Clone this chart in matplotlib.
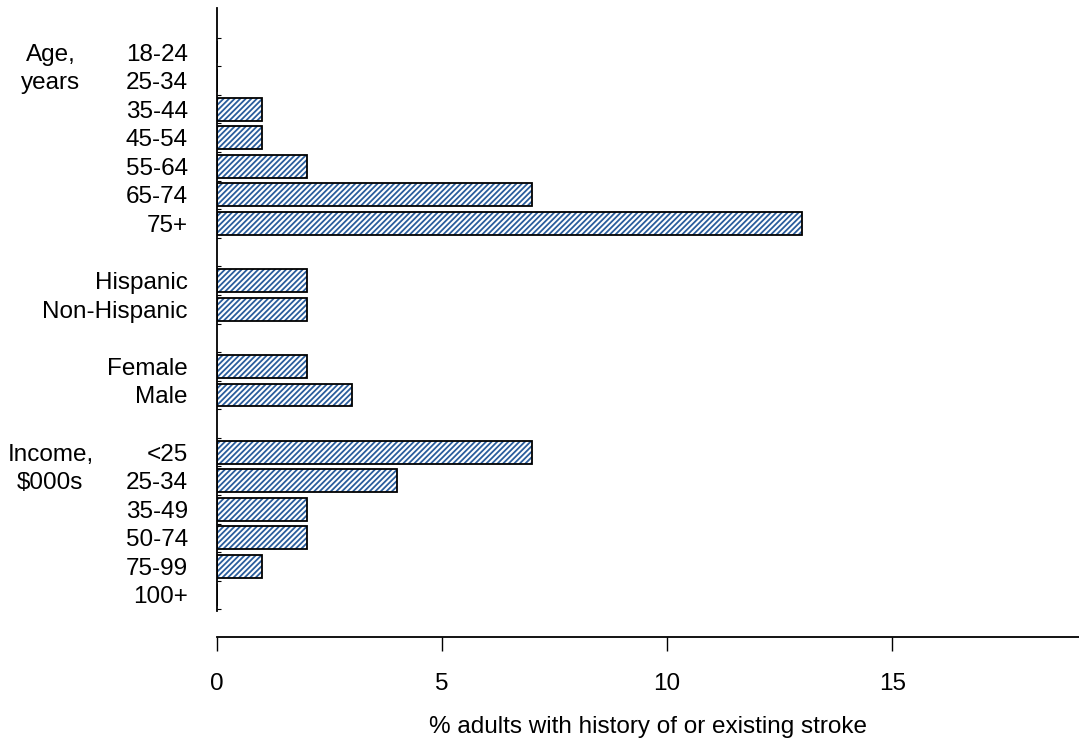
import numpy as np
import matplotlib.pyplot as plt

plt.rcParams['font.family'] = ['Liberation Sans', 'DejaVu Sans']
plt.rcParams['hatch.linewidth'] = 1.3

labels = ['18-24', '25-34', '35-44', '45-54', '55-64', '65-74', '75+',
          'Hispanic', 'Non-Hispanic',
          'Female', 'Male',
          '<25', '25-34', '35-49', '50-74', '75-99', '100+']
values = [0, 0, 1, 1, 2, 7, 13,
          2, 2,
          2, 3,
          7, 4, 2, 2, 1, 0]
group_sizes = [7, 2, 2, 6]
group_titles = ['Age,\nyears', '', '', 'Income,\n$000s']

# row positions with an empty slot between groups
pos = []
start = 0
for n in group_sizes:
    pos += list(range(start, start + n))
    start += n + 1
pos = np.array(pos)

fs = 17.5
fig = plt.figure(figsize=(10.79, 7.42), dpi=100)
ax = fig.add_axes([0.2011, 0.1415, 0.7989, 0.8477])

hatch_col = '#2a5d9c'
ax.barh(pos, values, height=0.8, color='white', edgecolor=hatch_col,
        hatch='//////', linewidth=0)
ax.barh(pos, values, height=0.8, fill=False, edgecolor='black', linewidth=1.3)

ax.set_ylim(20.47, -1.54)
ax.set_xlim(0, 19.15)

ax.set_yticks(pos)
ax.set_yticklabels(labels, fontsize=fs)
ax.tick_params(axis='y', which='major', length=0, pad=21)
bounds = sorted(set(list(pos - 0.5) + list(pos + 0.5)))
ax.set_yticks(bounds, minor=True)
ax.tick_params(axis='y', which='minor', length=3, direction='in', width=0.8)

ax.set_xticks([0, 5, 10, 15])
ax.tick_params(axis='x', length=10, width=1, direction='out', pad=16,
               labelsize=fs)

ax.spines['top'].set_visible(False)
ax.spines['right'].set_visible(False)
ax.spines['left'].set_bounds(-1.54, 19.55)
ax.spines['left'].set_linewidth(1.3)
ax.spines['bottom'].set_linewidth(1.3)

# group titles on the left
start = 0
for n, title in zip(group_sizes, group_titles):
    if title:
        for k, line in enumerate(title.split('\n')):
            ax.text(-3.7, start + k, line, fontsize=fs, ha='center',
                    va='center_baseline', clip_on=False)
    start += n + 1

ax.set_xlabel('% adults with history of or existing stroke', fontsize=fs,
              labelpad=15)

fig.savefig('out.png', dpi=100)
